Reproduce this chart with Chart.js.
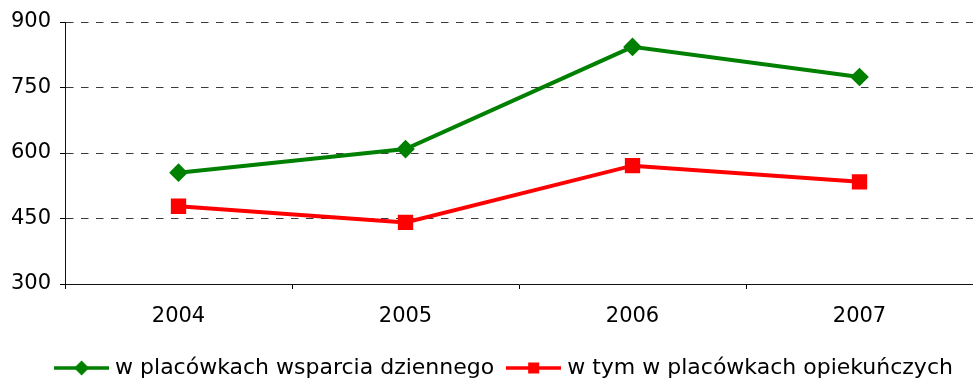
<!DOCTYPE html>
<html>
<head>
<meta charset="utf-8">
<script src="https://cdn.jsdelivr.net/npm/chart.js@4/dist/chart.umd.min.js"></script>
<style>
  html, body { margin: 0; padding: 0; background: #fff; }
  #wrap { width: 973px; height: 378px; position: relative; }
</style>
</head>
<body>
<div id="wrap"><canvas id="chart" width="973" height="378"></canvas></div>
<script>
// Years on the horizontal axis
const categories = ['2004', '2005', '2006', '2007'];
// Children in day-support facilities
const dayCareValues = [555, 609, 843, 774];
// of which in care facilities
const careHomeValues = [478, 441, 571, 534];
// Vertical axis range
const yMin = 300;
const yMax = 900;
const yStep = 150;

const seriesNames = ['w placówkach wsparcia dziennego', 'w tym w placówkach opiekuńczych'];
const GREEN = '#008000';
const RED = '#ff0000';
const FONT = 'Verdana, "DejaVu Sans", sans-serif';

// Legend swatch: a short line with the series marker in its middle
function legendSwatch(color, shape) {
  const c = document.createElement('canvas');
  c.width = 55; c.height = 18;
  const g = c.getContext('2d');
  g.strokeStyle = color; g.lineWidth = 3.5;
  g.beginPath(); g.moveTo(0, 9); g.lineTo(55, 9); g.stroke();
  g.fillStyle = color;
  g.beginPath();
  if (shape === 'diamond') {
    g.moveTo(27.5, 1.5); g.lineTo(35, 9); g.lineTo(27.5, 16.5); g.lineTo(20, 9);
  } else {
    g.rect(22, 3.5, 11, 11);
  }
  g.closePath(); g.fill();
  return c;
}
const swatches = [legendSwatch(GREEN, 'diamond'), legendSwatch(RED, 'square')];

// Nudges the legend row sideways after layout
const legendShift = {
  id: 'legendShift',
  afterLayout(chart, args, opts) {
    const lg = chart.legend;
    if (!lg) return;
    lg.left += opts.dx;
    lg.right += opts.dx;
  }
};

new Chart(document.getElementById('chart'), {
  type: 'line',
  data: {
    labels: categories,
    datasets: [
      {
        label: seriesNames[0],
        data: dayCareValues,
        borderColor: GREEN,
        backgroundColor: GREEN,
        borderWidth: 4,
        pointStyle: 'rectRot',
        pointRadius: 6.5,
        pointHoverRadius: 6.5,
        tension: 0
      },
      {
        label: seriesNames[1],
        data: careHomeValues,
        borderColor: RED,
        backgroundColor: RED,
        borderWidth: 4,
        pointStyle: 'rect',
        pointRadius: 8,
        pointHoverRadius: 8,
        tension: 0
      }
    ]
  },
  plugins: [legendShift],
  options: {
    responsive: false,
    animation: false,
    layout: { autoPadding: false, padding: { top: 22, left: 0, right: 0, bottom: 0 } },
    plugins: {
      tooltip: { enabled: false },
      legendShift: { dx: 19.5 },
      legend: {
        position: 'bottom',
        maxHeight: 38,
        labels: {
          usePointStyle: true,
          pointStyleWidth: 45,
          padding: 17,
          color: '#000',
          font: { family: FONT, size: 22 },
          generateLabels(chart) {
            const items = Chart.defaults.plugins.legend.labels.generateLabels(chart);
            items.forEach((it, i) => { it.pointStyle = swatches[i]; });
            return items;
          }
        }
      }
    },
    scales: {
      x: {
        offset: true,
        afterFit(scale) {
          scale.height = 56;
          scale.paddingLeft = 0;
          scale.paddingRight = 0;
        },
        grid: {
          offset: true,
          drawOnChartArea: false,
          drawTicks: true,
          tickLength: 5,
          tickColor: '#000'
        },
        border: { display: true, color: '#111', width: 1 },
        ticks: { color: '#000', padding: 15, font: { family: FONT, size: 21 } }
      },
      y: {
        min: yMin,
        max: yMax,
        afterFit(scale) {
          scale.width = 65;
          scale.paddingTop = 0;
          scale.paddingBottom = 0;
        },
        ticks: { stepSize: yStep, color: '#000', padding: 9, font: { family: FONT, size: 21 } },
        grid: {
          // the bottom value sits on the category axis line, so no dashed line there
          color: (ctx) => (ctx.tick && ctx.tick.value === yMin ? 'rgba(0,0,0,0)' : '#3a3a3a'),
          lineWidth: 1,
          drawTicks: true,
          tickLength: 5,
          tickColor: '#000',
          tickBorderDash: []
        },
        border: { display: true, color: '#111', width: 1, dash: [7.5, 7.5] }
      }
    }
  }
});
</script>
</body>
</html>
